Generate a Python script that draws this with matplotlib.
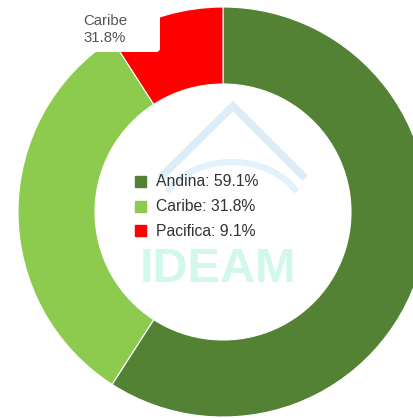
import matplotlib
matplotlib.use('Agg')
import matplotlib.pyplot as plt
from matplotlib.patches import FancyBboxPatch, Arc

# share of each region (percent)
regions = ['Andina', 'Caribe', 'Pacifica']
shares = [59.1, 31.8, 9.1]
colors = ['#548235', '#8ccb4e', '#ff0000']
tooltip_region = 'Caribe'

W, H = 413, 418
plt.rcParams['font.family'] = ['Liberation Sans', 'DejaVu Sans']

fig = plt.figure(figsize=(W / 100, H / 100), dpi=100)
ax = fig.add_axes([0, 0, 1, 1])

# faint logo watermark behind the legend
ax.plot([160, 233, 305], [178, 106, 178], color='#dcedf8', lw=5.5,
        solid_capstyle='butt', solid_joinstyle='miter', zorder=1)
ax.add_patch(Arc((232, 222), 150, 120, theta1=205, theta2=335,
                 color='#e3f1fa', lw=4.5, zorder=1))
ax.text(218, 270, 'IDEAM', fontsize=35, fontweight='bold', color='#d2f7ec',
        ha='center', va='center', zorder=1)

# donut, clockwise from 12 o'clock (y axis runs downward)
ax.pie(shares, colors=colors, startangle=-90, counterclock=True,
       radius=205, center=(223, 212),
       wedgeprops=dict(width=77, edgecolor='white', linewidth=0.8))

# legend in the hole
for i, (name, val) in enumerate(zip(regions, shares)):
    y = 182 + i * 24.5
    ax.add_patch(plt.Rectangle((135, y - 6), 11, 11, color=colors[i], zorder=3))
    ax.text(156, y, '{}: {:.1f}%'.format(name, val), fontsize=11.3,
            color='#333333', va='center', ha='left', zorder=3)

# hover tooltip
ax.add_patch(FancyBboxPatch((70, 3), 90, 49, boxstyle='round,pad=0,rounding_size=4',
                            facecolor='white', edgecolor='none', zorder=4))
val = shares[regions.index(tooltip_region)]
ax.text(83, 21, tooltip_region, fontsize=10.8, color='#555555', va='center', zorder=5)
ax.text(83, 38, '{:.1f}%'.format(val), fontsize=10.8, color='#555555', va='center', zorder=5)

ax.set_xlim(0, W)
ax.set_ylim(H, 0)
ax.set_aspect('auto')
ax.axis('off')

fig.savefig('out.png', dpi=100)
